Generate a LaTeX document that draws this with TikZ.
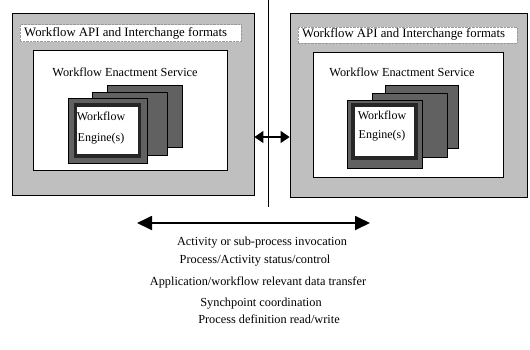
\documentclass[tikz,border=0pt]{standalone}
\usepackage{fontspec}
\setmainfont{Liberation Serif}
\usetikzlibrary{arrows.meta}
\tikzset{
  outerbox/.style={draw,fill=black!25,line width=0.8pt,inner sep=0pt},
  headbox/.style={draw=black!40,densely dotted,fill=white,inner sep=0pt},
  servicebox/.style={draw,fill=white,line width=0.8pt,inner sep=0pt},
  enginebox/.style={draw,fill=black!62,line width=0.8pt,inner sep=0pt},
  frontbox/.style={draw=black!85,fill=white,line width=3.2pt,inner sep=0pt},
  lbl/.style={font=\fontsize{12.8}{14}\selectfont,inner sep=0pt},
  flow/.style={font=\fontsize{12.3}{14}\selectfont,inner sep=0pt}
}
\begin{document}
\begin{tikzpicture}[x=1pt,y=-1pt]
		\useasboundingbox (0,0) rectangle (530,349);
		% left side
		\node [outerbox,minimum width=242pt,minimum height=182pt] (lout) at (133,104) {};
		\node [headbox,minimum width=221pt,minimum height=17pt] (lhead) at (130.5,33) {};
		\node [lbl,anchor=west] (lapi) at (24,33) {Workflow API and Interchange formats};
		\node [servicebox,minimum width=194pt,minimum height=120pt] (lsrv) at (130,110) {};
		\node [lbl,font=\fontsize{12.3}{14}\selectfont] (lwes) at (125,72) {Workflow Enactment Service};
		\node [enginebox,minimum width=75pt,minimum height=62pt] (leng3) at (144.5,116) {};
		\node [enginebox,minimum width=75pt,minimum height=63pt] (leng2) at (129.5,123.5) {};
		\node [enginebox,minimum width=79pt,minimum height=65pt] (leng1) at (107.5,130.5) {};
		\node [frontbox,minimum width=64pt,minimum height=51pt] (lfront) at (107.5,130.5) {};
		\node [lbl,align=center,font=\fontsize{12}{21}\selectfont] (lwe) at (101,128) {Workflow\\Engine(s)};
		% right side
		\node [outerbox,minimum width=237pt,minimum height=184pt] (rout) at (408.5,105) {};
		\node [headbox,minimum width=219pt,minimum height=16pt] (rhead) at (407.5,35) {};
		\node [lbl,anchor=west] (rapi) at (302,34) {Workflow API and Interchange formats};
		\node [servicebox,minimum width=190pt,minimum height=125pt] (rsrv) at (408,114.5) {};
		\node [lbl,font=\fontsize{12.3}{14}\selectfont] (rwes) at (402,72) {Workflow Enactment Service};
		\node [enginebox,minimum width=73pt,minimum height=63pt] (reng3) at (421.5,116.5) {};
		\node [enginebox,minimum width=75pt,minimum height=64pt] (reng2) at (409.5,125) {};
		\node [enginebox,minimum width=75pt,minimum height=68pt] (reng1) at (384.5,134) {};
		\node [frontbox,minimum width=63pt,minimum height=53pt] (rfront) at (384.5,131.5) {};
		\node [lbl,align=center,font=\fontsize{12}{19}\selectfont] (rwe) at (382,126) {Workflow\\Engine(s)};
		% interface
		\coordinate (vtop) at (268,0);
		\coordinate (vbot) at (268,207);
		\draw [line width=1pt] (vtop) -- (vbot);
		\draw [line width=1.2pt,{Triangle[length=9pt,width=12pt]}-{Triangle[length=9pt,width=12pt]}] (lout.east |- 0,137) -- (rout.west |- 0,137);
		\coordinate (aleft) at (137,223);
		\coordinate (aright) at (370,223);
		\draw [line width=1.8pt,{Triangle[length=15pt,width=14pt]}-{Triangle[length=15pt,width=14pt]}] (aleft) -- (aright);
		\node [flow] (t1) at (262,243) {Activity or sub-process invocation};
		\node [flow] (t2) at (255,261) {Process/Activity status/control};
		\node [flow] (t3) at (258,282) {Application/workflow relevant data transfer};
		\node [flow] (t4) at (261,304) {Synchpoint coordination};
		\node [flow] (t5) at (269,319) {Process definition read/write};
\end{tikzpicture}
\end{document}
